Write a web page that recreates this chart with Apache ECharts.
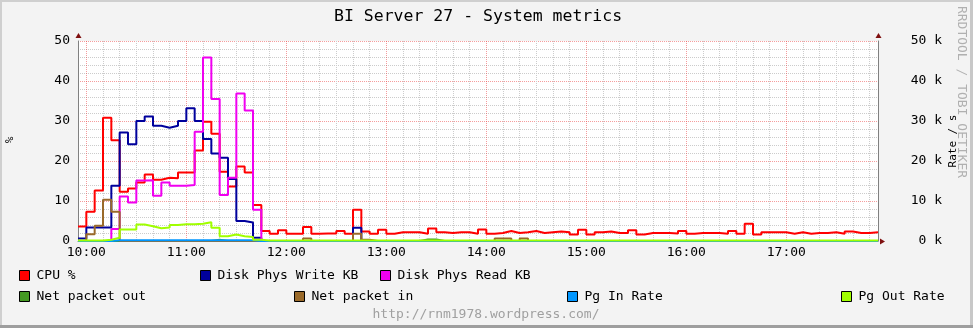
<!DOCTYPE html>
<html>
<head>
<meta charset="utf-8">
<script src="https://cdn.jsdelivr.net/npm/echarts@6/dist/echarts.min.js"></script>
<style>
html,body{margin:0;padding:0;background:#f3f3f3;}
#c{width:973px;height:328px;}
</style>
</head>
<body>
<div id="c"></div>
<script>
// ---- data (5-minute slots starting 09:55, minutes relative to 10:00) ----
const slotStart = -5;
const slotMinutes = 5;
const hourLabels = ['10:00','11:00','12:00','13:00','14:00','15:00','16:00','17:00'];
const seriesNames = ['CPU %','Disk Phys Write KB','Disk Phys Read KB','Net packet out','Net packet in','Pg In Rate','Pg Out Rate'];

const cpu = [
  3.6,7.3,12.6,30.8,25.2,12.3,13.1,14.6,16.6,15.3,
  15.8,15.7,17.1,17.1,22.6,29.8,26.8,17.3,13.6,18.6,
  17.1,9.0,2.5,1.8,2.7,1.8,1.8,3.5,1.8,1.9,
  1.9,2.5,1.8,7.8,2.4,1.8,2.8,1.8,2.2,2.2,
  2.2,1.8,3.1,2.2,2.0,2.2,2.2,1.8,2.9,1.8,
  2.0,2.5,2.0,2.2,2.5,2.0,2.2,2.4,2.2,1.6,
  2.8,1.6,2.2,2.4,2.0,2.0,2.7,1.6,2.0,2.0,
  2.0,1.9,2.5,1.8,2.0,2.0,2.0,1.8,2.5,1.8,
  4.3,1.6,2.2,2.2,2.2,1.8,2.2,1.8,2.0,2.0,
  2.2,1.8,2.4,2.0,2.0,2.2
];
const diskWrite = [
  0.6,3.4,3.4,3.4,13.8,27.1,24.2,30.0,31.1,28.8,
  28.3,28.8,30.0,33.2,30.0,25.5,21.9,20.8,15.5,5.0,
  4.6,0.8,0,0,0,0,0,0,0,0,
  0,0,0,3.3,0,0,0,0,0,0,
  0,0,0,0,0,0,0,0,0,0,
  0,0,0,0,0,0,0,0,0,0,
  0,0,0,0,0,0,0,0,0,0,
  0,0,0,0,0,0,0,0,0,0,
  0,0,0,0,0,0,0,0,0,0,
  0,0,0,0,0,0
];
const diskRead = [
  0,0,0,0,3.0,11.1,9.6,15.1,15.2,11.3,
  14.6,13.8,13.8,14.0,27.3,45.9,35.5,11.5,15.8,36.9,
  32.6,7.8,0,0,0,0,0,0,0,0,
  0,0,0,0,0,0,0,0,0,0,
  0,0,0,0,0,0,0,0,0,0,
  0,0,0,0,0,0,0,0,0,0,
  0,0,0,0,0,0,0,0,0,0,
  0,0,0,0,0,0,0,0,0,0,
  0,0,0,0,0,0,0,0,0,0,
  0,0,0,0,0,0
];
const netOut = [
  0,0,0,0,0,0,0,0,0,0,
  0,0,0,0,0,0,0.3,0,0,0,
  0,0,0,0,0,0,0,0,0,0,
  0,0,0,0,0,0,0,0,0,0,
  0,0.4,0.4,0,0,0,0,0,0,0,
  0,0,0,0,0,0,0,0,0,0,
  0,0,0,0,0,0,0,0,0,0,
  0,0,0,0,0,0,0,0,0,0,
  0,0,0,0,0,0,0,0,0,0,
  0,0,0,0,0,0
];
const netIn = [
  0,1.7,3.8,10.3,7.3,0,0,0,0,0,
  0,0,0,0,0,0,0,0,0,0,
  0,0,0,0,0,0,0,0.6,0,0,
  0,0,0,1.8,0.3,0,0,0,0,0,
  0,0,0,0,0,0,0,0,0,0,
  0.6,0.6,0,0.6,0,0,0,0,0,0,
  0,0,0,0,0,0,0,0,0,0,
  0,0,0,0,0,0,0,0,0,0,
  0,0,0,0,0,0,0,0,0,0,
  0,0,0,0,0,0
];
const pgIn = [
  0,0,0,0,0.2,0.2,0.2,0.2,0.2,0.2,
  0.2,0.2,0.2,0.2,0.2,0.2,0.2,0.2,0.2,0.2,
  0.2,0,0,0,0,0,0,0,0,0,
  0,0,0,0,0,0,0,0,0,0,
  0,0,0,0,0,0,0,0,0,0,
  0,0,0,0,0,0,0,0,0,0,
  0,0,0,0,0,0,0,0,0,0,
  0,0,0,0,0,0,0,0,0,0,
  0,0,0,0,0,0,0,0,0,0,
  0,0,0,0,0,0
];
const pgOut = [
  0.1,0.1,0.15,0.3,0.8,2.9,2.9,4.1,3.7,3.2,
  3.4,4.0,4.2,4.2,4.3,4.7,3.3,1.2,1.6,1.2,
  1.0,0.3,0.15,0.15,0.15,0.15,0.15,0.15,0.15,0.15,
  0.15,0.15,0.15,0.15,0.15,0.15,0.15,0.15,0.15,0.15,
  0.15,0.15,0.15,0.15,0.15,0.15,0.15,0.15,0.15,0.15,
  0.15,0.15,0.15,0.15,0.15,0.15,0.15,0.15,0.15,0.15,
  0.15,0.15,0.15,0.15,0.15,0.15,0.15,0.15,0.15,0.15,
  0.15,0.15,0.15,0.15,0.15,0.15,0.15,0.15,0.15,0.15,
  0.15,0.15,0.15,0.15,0.15,0.15,0.15,0.15,0.15,0.15,
  0.15,0.15,0.15,0.15,0.15,0.15
];

// ---- layout / style ----
const FONT = 'DejaVu Sans Mono';
const GL = 78, GT = 41, GW = 800, GH = 200;
const colors = ['#ff0000','#00009c','#f000f0','#449922','#9a6a2a','#0096ff','#a0ff00'];
const legendPos = [[19,269],[200,269],[380,269],[19,290],[294,290],[567,290],[841,290]];
const RED = 'rgba(235,60,60,0.5)', GRAY = '#cccccc';
const ARROW = '#7f1010', AXIS = '#808080';

const nSlots = cpu.length;
const xMin = slotStart, xMax = slotStart + slotMinutes * nSlots;
const hourValues = hourLabels.map((_, i) => i * 60);
const minorValues = [];
for (let m = 10; m < xMax; m += 10) if (m % 60 !== 0) minorValues.push(m);

function toSteps(vals) {
  const pts = vals.map((v, i) => [slotStart + slotMinutes * i, v]);
  pts.push([xMax, vals[vals.length - 1]]);
  return pts;
}
const allValues = [cpu, diskWrite, diskRead, netOut, netIn, pgIn, pgOut];

const chart = echarts.init(document.getElementById('c'), null, {renderer: 'canvas'});
const option = {
  animation: false,
  backgroundColor: '#f3f3f3',
  title: {
    text: 'BI Server 27 - System metrics', left: 334, top: 9, padding: 0,
    textStyle: {fontFamily: FONT, fontSize: 16.5, fontWeight: 'normal', color: '#000', lineHeight: 16}
  },
  grid: {left: GL, top: GT, width: GW, height: GH, show: true, backgroundColor: '#ffffff', borderWidth: 0, containLabel: false, outerBoundsMode: 'none'},
  legend: seriesNames.map((n, i) => ({
    data: [n], left: legendPos[i][0], top: legendPos[i][1], padding: 0,
    icon: 'rect', itemWidth: 10, itemHeight: 10, selectedMode: false,
    itemStyle: {borderColor: '#000', borderWidth: 1},
    textStyle: {fontFamily: FONT, fontSize: 13, color: '#000', padding: [0, 0, 0, 2]}
  })),
  xAxis: [
    {
      type: 'value', min: xMin, max: xMax, position: 'bottom',
      axisLine: {show: true, onZero: false, lineStyle: {color: AXIS, width: 1}},
      axisTick: {show: false, customValues: hourValues},
      axisLabel: {
        customValues: hourValues,
        color: '#000', fontFamily: FONT, fontSize: 13, margin: 5,
        formatter: v => hourLabels[Math.round(v / 60)] || ''
      },
      splitLine: {show: true, lineStyle: {color: RED, type: [1, 1], width: 1}},
      z: 1
    },
    {
      type: 'value', min: xMin, max: xMax, position: 'top',
      axisLine: {show: false, onZero: false},
      axisTick: {show: false, customValues: minorValues},
      axisLabel: {show: false, customValues: minorValues},
      splitLine: {show: true, lineStyle: {color: GRAY, type: [1, 1], width: 1}},
      z: 0
    }
  ],
  yAxis: [
    {
      type: 'value', min: 0, max: 50, interval: 10, position: 'left',
      axisLine: {show: true, onZero: false, lineStyle: {color: AXIS, width: 1}},
      axisTick: {show: false},
      axisLabel: {color: '#000', fontFamily: FONT, fontSize: 13, margin: 8},
      splitLine: {show: true, lineStyle: {color: RED, type: [1, 1], width: 1}},
      minorTick: {show: false, splitNumber: 5},
      minorSplitLine: {show: true, lineStyle: {color: GRAY, type: [1, 1], width: 1}}
    },
    {
      type: 'value', min: 0, max: 50, interval: 10, position: 'right',
      axisLine: {show: true, onZero: false, lineStyle: {color: AXIS, width: 1}},
      axisTick: {show: false},
      axisLabel: {color: '#000', fontFamily: FONT, fontSize: 13, margin: 64, align: 'right', formatter: v => v + ' k'},
      splitLine: {show: false}
    }
  ],
  series: seriesNames.map((n, i) => ({
    name: n, type: 'line', step: 'end', xAxisIndex: 0, yAxisIndex: i === 0 ? 0 : 1,
    data: toSteps(allValues[i]), showSymbol: false, symbol: 'none',
    color: colors[i], lineStyle: {color: colors[i], width: 2},
    emphasis: {disabled: true}
  })),
  graphic: [
    {type: 'rect', shape: {x: 0, y: 0, width: 973, height: 2}, style: {fill: '#cfcfcf'}, silent: true},
    {type: 'rect', shape: {x: 0, y: 0, width: 2, height: 328}, style: {fill: '#cfcfcf'}, silent: true},
    {type: 'rect', shape: {x: 970, y: 0, width: 3, height: 328}, style: {fill: '#c8c8c8'}, silent: true},
    {type: 'rect', shape: {x: 0, y: 325, width: 973, height: 3}, style: {fill: '#9e9e9e'}, silent: true},
    {type: 'polygon', shape: {points: [[GL - 2.5, GT - 3], [GL + 3.5, GT - 3], [GL + 0.5, GT - 8]]}, style: {fill: ARROW}, silent: true, z: 100},
    {type: 'polygon', shape: {points: [[GL + GW - 2.5, GT - 3], [GL + GW + 3.5, GT - 3], [GL + GW + 0.5, GT - 8]]}, style: {fill: ARROW}, silent: true, z: 100},
    {type: 'polygon', shape: {points: [[GL + GW + 2, GT + GH - 2.5], [GL + GW + 2, GT + GH + 3.5], [GL + GW + 7, GT + GH + 0.5]]}, style: {fill: ARROW}, silent: true, z: 100},
    {type: 'text', x: 10, y: 140, rotation: Math.PI / 2, style: {text: '%', font: '11px "DejaVu Sans Mono"', fill: '#000', align: 'center', verticalAlign: 'middle'}, silent: true},
    {type: 'text', x: 953, y: 141, rotation: Math.PI / 2, style: {text: 'Rate / s', font: '11px "DejaVu Sans Mono"', fill: '#000', align: 'center', verticalAlign: 'middle'}, silent: true},
    {type: 'text', x: 961, y: 92, rotation: -Math.PI / 2, style: {text: 'RRDTOOL / TOBI OETIKER', font: '13px "DejaVu Sans Mono"', fill: '#b0b0b0', align: 'center', verticalAlign: 'middle'}, silent: true},
    {type: 'text', x: 486, y: 315, style: {text: 'http://rnm1978.wordpress.com/', font: '13px "DejaVu Sans Mono"', fill: '#a0a0a0', align: 'center', verticalAlign: 'middle'}, silent: true}
  ]
};
chart.setOption(option);
</script>
</body>
</html>
